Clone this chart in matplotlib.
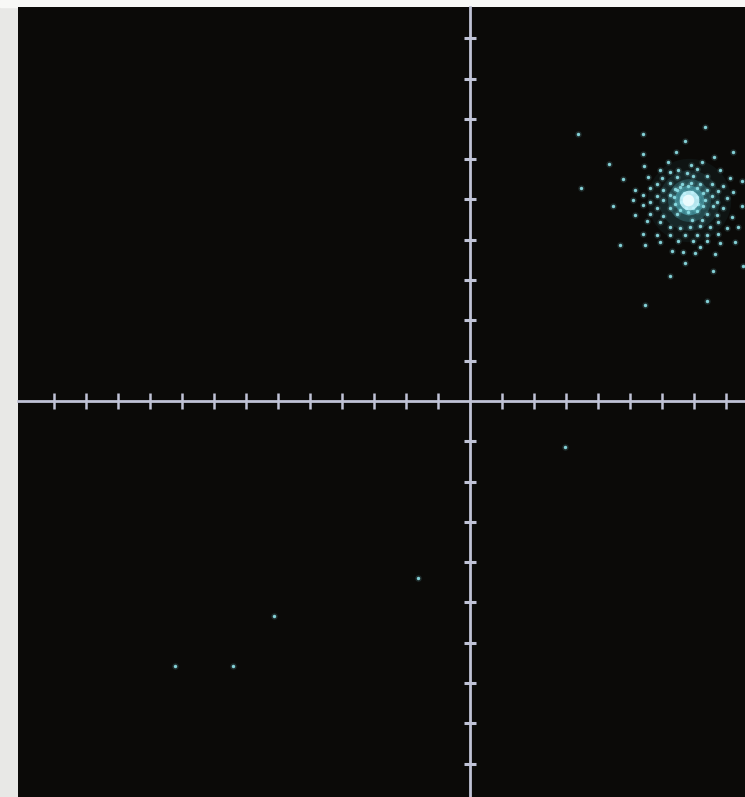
import matplotlib
matplotlib.use("Agg")
import matplotlib.pyplot as plt

# Received symbol cloud (I/Q), spiral around the upper-right constellation point
cluster_i = [
    7.34, 3.39, 5.42, 6.72, 6.43, 8.21, 5.42, 7.63, 6.20, 7.24, 4.35, 5.45, 6.91,
    5.94, 6.51, 7.08, 7.81, 6.25, 6.77, 5.57, 5.99, 6.46, 6.98, 7.40, 8.13, 4.79,
    8.49, 5.83, 6.25, 6.61, 6.90, 7.19, 7.55, 7.92, 3.47, 5.16, 5.63, 6.04, 6.41,
    7.40, 7.76, 8.23, 5.42, 5.83, 6.25, 7.55, 8.02, 5.10, 5.63, 6.04, 7.71, 4.48,
    5.42, 5.83, 6.25, 7.60, 7.92, 8.49, 5.16, 5.63, 6.04, 6.46, 7.40, 7.71, 8.18,
    5.52, 5.94, 6.93, 7.24, 7.76, 6.25, 6.56, 6.88, 7.19, 7.50, 8.02, 8.39, 5.42,
    5.83, 6.25, 6.72, 7.08, 7.40, 7.76, 5.94, 6.51, 6.98, 7.40, 7.81, 8.28, 4.69,
    5.47, 7.19, 6.30, 6.67, 7.03, 7.66, 6.72, 8.52, 7.60, 6.25, 7.40, 5.47,
]
cluster_q = [
    6.79, 6.63, 6.63, 6.44, 6.19, 6.19, 6.13, 6.05, 5.94, 5.94, 5.88, 5.82, 5.86,
    5.73, 5.73, 5.76, 5.73, 5.68, 5.65, 5.57, 5.54, 5.55, 5.59, 5.59, 5.54, 5.51,
    5.46, 5.38, 5.40, 5.39, 5.40, 5.39, 5.38, 5.34, 5.28, 5.23, 5.29, 5.23, 5.26,
    5.23, 5.21, 5.19, 5.11, 5.09, 5.11, 5.09, 5.04, 4.98, 4.94, 4.98, 4.94, 4.83,
    4.86, 4.79, 4.78, 4.83, 4.78, 4.83, 4.61, 4.65, 4.59, 4.63, 4.65, 4.61, 4.57,
    4.46, 4.43, 4.48, 4.50, 4.43, 4.32, 4.29, 4.32, 4.34, 4.32, 4.29, 4.32, 4.15,
    4.11, 4.11, 4.11, 4.13, 4.11, 4.15, 3.94, 3.98, 3.98, 3.96, 3.93, 3.94, 3.86,
    3.86, 3.82, 3.71, 3.69, 3.68, 3.65, 3.42, 3.36, 3.23, 3.11, 2.48, 2.38,
]

# Tightly wound inner turns of the spiral
core_i = [6.56, 6.82, 7.08, 7.27, 7.34, 7.27, 7.08, 6.82, 6.56, 6.41, 6.38, 6.46,
          6.69, 6.93, 7.10, 7.14, 6.98, 6.75, 6.58, 6.61, 6.85, 6.90]
core_q = [5.32, 5.34, 5.29, 5.15, 4.98, 4.83, 4.71, 4.68, 4.73, 4.88, 5.07, 5.23,
          5.15, 5.18, 5.07, 4.90, 4.79, 4.79, 4.93, 5.07, 4.98, 4.93]

# Isolated outlier symbols
outlier_i = [2.97, -1.63, -6.13, -7.41, -9.22]
outlier_q = [-1.15, -4.38, -5.33, -6.58, -6.58]

x_ticks = [t for t in range(-13, 9) if t != 0]
y_ticks = [t for t in range(-9, 10) if t != 0]

W, H = 745, 797
fig = plt.figure(figsize=(W / 100, H / 100), dpi=100)
fig.patch.set_facecolor("#e8e8e6")
# light strip along the top edge
fig.add_artist(plt.Rectangle((0, 1 - 7 / H), 1, 7 / H, transform=fig.transFigure,
                             color="#f8f8f6", zorder=0))

ax = fig.add_axes([18 / W, 0, (W - 18) / W, (H - 7) / H])
ax.set_facecolor("#0b0a08")

x0, xs = 470, 32.0
y0, ys = 401, 40.3
ax.set_xlim((18 - x0) / xs, (W - x0) / xs)
ax.set_ylim((y0 - H) / ys, (y0 - 7) / ys)

axis_col = "#c0c3d6"
for side in ("top", "right"):
    ax.spines[side].set_visible(False)
ax.spines["left"].set_position(("data", 0))
ax.spines["bottom"].set_position(("data", 0))
for side in ("left", "bottom"):
    ax.spines[side].set_color(axis_col)
    ax.spines[side].set_linewidth(2.0)
    ax.spines[side].set_zorder(2)

ax.set_xticks(x_ticks)
ax.set_yticks(y_ticks)
ax.tick_params(axis="x", direction="inout", length=11, width=1.8, color=axis_col,
               labelbottom=False)
ax.tick_params(axis="y", direction="inout", length=9, width=2.2, color=axis_col,
               labelleft=False)

dot = "#8fe3ea"
all_i = cluster_i + core_i + outlier_i
all_q = cluster_q + core_q + outlier_q

# soft halo around the dense centre of the spiral
for s, a in [(3600, 0.05), (1900, 0.10), (950, 0.20), (450, 0.40)]:
    ax.scatter([6.85], [4.98], s=s, color="#5fd8ea", alpha=a, linewidths=0, zorder=3)

ax.scatter(all_i, all_q, s=22, color=dot, alpha=0.15, linewidths=0, zorder=4)
ax.scatter(all_i, all_q, s=6, color=dot, alpha=0.9, linewidths=0, zorder=5)

# bright saturated centre
ax.scatter([6.85], [4.98], s=200, color="#c8f6ff", alpha=0.85, linewidths=0, zorder=6)
ax.scatter([6.80], [4.98], s=70, color="#f0fdff", alpha=0.9, linewidths=0, zorder=6)

fig.savefig("out.png", dpi=100, facecolor=fig.get_facecolor())
